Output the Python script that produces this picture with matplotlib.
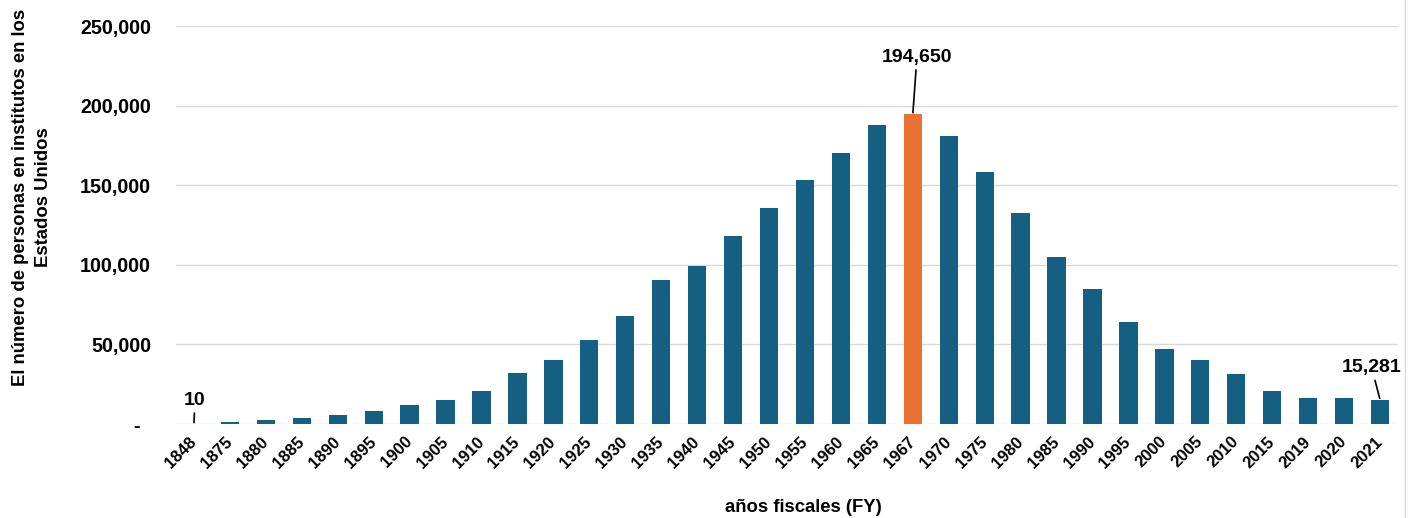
import matplotlib
matplotlib.use('Agg')
import matplotlib.pyplot as plt
from matplotlib.ticker import FuncFormatter
from matplotlib.lines import Line2D

plt.rcParams['font.family'] = ['Liberation Sans', 'DejaVu Sans']
plt.rcParams['font.weight'] = 'bold'

# Fiscal years and number of people
years = ['1848', '1875', '1880', '1885', '1890', '1895', '1900', '1905', '1910',
         '1915', '1920', '1925', '1930', '1935', '1940', '1945', '1950', '1955',
         '1960', '1965', '1967', '1970', '1975', '1980', '1985', '1990', '1995',
         '2000', '2005', '2010', '2015', '2019', '2020', '2021']
values = [10, 1300, 2500, 3800, 5400, 8400, 11700, 15100, 20700,
          31900, 40200, 52800, 68100, 90700, 99300, 118400, 135800, 153000,
          170400, 187600, 194650, 181100, 158400, 132400, 105200, 84700, 64100,
          47200, 40000, 31400, 20700, 16600, 16100, 15281]
highlight_year = '1967'
labelled_years = ['1848', '1967', '2021']

blue = '#156082'
orange = '#E97132'
colors = [orange if y == highlight_year else blue for y in years]

fig = plt.figure(figsize=(14.14, 5.18), dpi=100)
ax = fig.add_axes([176 / 1414, 94 / 518, (1398 - 176) / 1414, (424 - 26) / 518])

x = list(range(len(years)))
ax.bar(x, values, width=0.51, color=colors, zorder=3)

ax.set_xlim(-0.5, len(years) - 0.5)
ax.set_ylim(0, 250000)
ax.set_yticks([0, 50000, 100000, 150000, 200000, 250000])
ax.yaxis.set_major_formatter(FuncFormatter(lambda v, p: '-  ' if v == 0 else f'{int(v):,}'))
ax.grid(axis='y', color='#D9D9D9', linewidth=1, zorder=0)
for s in ['top', 'right', 'left', 'bottom']:
    ax.spines[s].set_visible(False)
ax.tick_params(axis='y', length=0, pad=18, labelsize=14.2)
ax.tick_params(axis='x', length=0, pad=11, labelsize=12)
ax.set_xticks(x)
ax.set_xticklabels(years, rotation=45, ha='right', rotation_mode='anchor', va='center')
for lbl in ax.get_xticklabels() + ax.get_yticklabels():
    lbl.set_fontweight('bold')

# data labels with leader lines
offsets = {'1848': (0.7, 17), '1967': (3, 41), '2021': (-6, 23)}
for yr in labelled_years:
    i = years.index(yr)
    ax.annotate(f'{values[i]:,}', xy=(i, values[i]), xytext=offsets[yr],
                textcoords='offset points', ha='center', va='center',
                fontsize=14, fontweight='bold',
                arrowprops=dict(arrowstyle='-', color='black', lw=1.2,
                                shrinkA=1, shrinkB=1))

fig.text(32 / 1414, 1 - 197 / 518,
         'El número de personas en institutos en los\nEstados Unidos',
         rotation=90, ha='center', va='center', fontsize=13.3, fontweight='bold',
         multialignment='center', linespacing=1.4)
fig.text(803 / 1414, 1 - 507 / 518, 'años fiscales (FY)', ha='center', va='center',
         fontsize=13.3, fontweight='bold')

fig.add_artist(Line2D([1405 / 1414, 1405 / 1414], [0, 1], color='#D9D9D9', lw=1,
                      transform=fig.transFigure))

fig.savefig('out.png', dpi=100)
